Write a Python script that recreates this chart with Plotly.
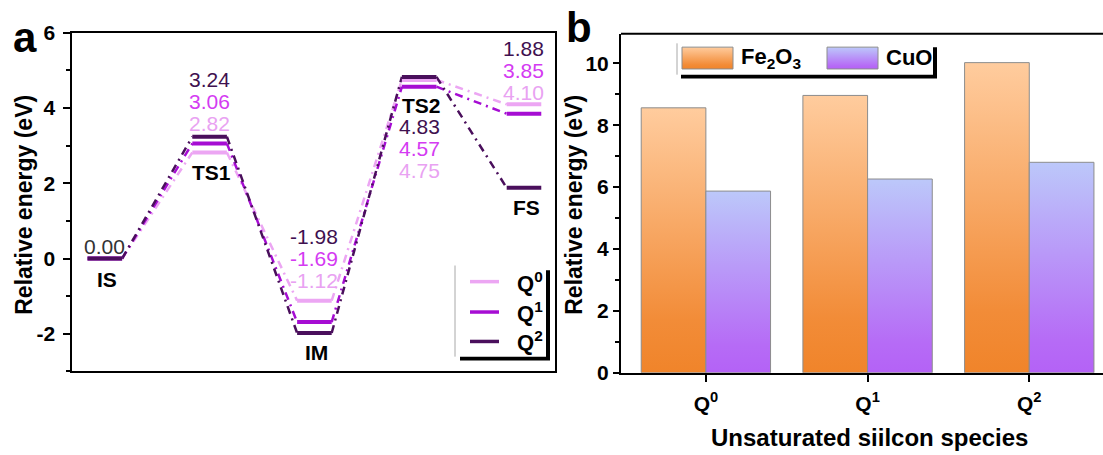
import plotly.graph_objects as go

# ---------------- data ----------------
states = ["IS", "TS1", "IM", "TS2", "FS"]
series_labels = ["Q<sup>0</sup>", "Q<sup>1</sup>", "Q<sup>2</sup>"]
energy_q0 = [0.00, 2.82, -1.12, 4.75, 4.10]
energy_q1 = [0.00, 3.06, -1.69, 4.57, 3.85]
energy_q2 = [0.00, 3.24, -1.98, 4.83, 1.88]

species = ["Q<sup>0</sup>", "Q<sup>1</sup>", "Q<sup>2</sup>"]
fe2o3_energy = [8.56, 8.96, 10.02]
cuo_energy = [5.87, 6.26, 6.80]

energy_ticks_a = [-2, 0, 2, 4, 6]
energy_ticks_b = [0, 2, 4, 6, 8, 10]

# ---------------- styles ----------------
FONT = "Arial, 'Liberation Sans', sans-serif"
line_cols = ["#ECA6F3", "#A60DD3", "#4A0F5C"]
text_cols = ["#E9A2F2", "#D43BF2", "#3F1150"]
fe_scale = [[0, "#F0842A"], [0.2, "#F28C38"], [1, "#FFCC9E"]]
cu_scale = [[0, "#B462F6"], [0.15, "#B66BF6"], [1, "#BCC8FA"]]
HALF = 0.165          # half width of an energy level
DASH = "8px,5px,2px,5px"
BAR_W = 0.4

fig = go.Figure()

# ---------------- panel a: energy profile ----------------
series = [energy_q0, energy_q1, energy_q2]
xs = list(range(1, len(states) + 1))
for vals, lc in zip(series, line_cols):
    cx, cy = [], []
    for i in range(len(vals) - 1):
        cx += [xs[i] + HALF, xs[i + 1] - HALF, None]
        cy += [vals[i], vals[i + 1], None]
    fig.add_trace(go.Scatter(x=cx, y=cy, mode="lines", xaxis="x", yaxis="y",
                             line=dict(color=lc, width=2.5, dash=DASH),
                             showlegend=False, hoverinfo="skip"))
for vals, lc in zip(series, line_cols):
    lx, ly = [], []
    for x, v in zip(xs, vals):
        lx += [x - HALF, x + HALF, None]
        ly += [v, v, None]
    fig.add_trace(go.Scatter(x=lx, y=ly, mode="lines", xaxis="x", yaxis="y",
                             line=dict(color=lc, width=4),
                             showlegend=False, hoverinfo="skip"))

annotations = []
# value labels, stacked Q2 / Q1 / Q0 from top
label_top = {"TS1": 4.76, "IM": 0.58, "TS2": 3.50, "FS": 5.58}
STEP = 0.58
for s, top in label_top.items():
    k = states.index(s)
    for row, idx in enumerate([2, 1, 0]):
        annotations.append(dict(
            x=xs[k], y=top - row * STEP, xref="x", yref="y",
            text=f"{series[idx][k]:.2f}", showarrow=False,
            font=dict(family=FONT, size=21, color=text_cols[idx])))
annotations.append(dict(x=xs[0], y=0.31, xref="x", yref="y",
                        text=f"{energy_q2[0]:.2f}", showarrow=False,
                        font=dict(family=FONT, size=21, color="#333333")))
# state names
name_y = {"IS": -0.56, "TS1": 2.30, "IM": -2.50, "TS2": 4.08, "FS": 1.36}
for s, y in name_y.items():
    annotations.append(dict(x=xs[states.index(s)] + 0.02, y=y, xref="x", yref="y",
                            text=f"<b>{s}</b>", showarrow=False,
                            font=dict(family=FONT, size=21, color="black")))

# ---------------- panel b: bars with vertical gradient ----------------
for vals, scale in [(fe2o3_energy, fe_scale), (cuo_energy, cu_scale)]:
    offset = -BAR_W if scale is fe_scale else 0.0
    for c, v in enumerate(vals):
        x0 = c + offset
        fig.add_trace(go.Scatter(
            x=[x0, x0, x0 + BAR_W, x0 + BAR_W, x0], y=[0, v, v, 0, 0],
            mode="lines", fill="toself", xaxis="x2", yaxis="y2",
            fillgradient=dict(type="vertical", colorscale=scale),
            line=dict(color="#8C8C8C", width=1),
            showlegend=False, hoverinfo="skip"))

# ---------------- legends on a pixel canvas (x3/y3) ----------------
def rect(x0, y0, x1, y1, fill, line_color=None, line_width=0):
    fig.add_trace(go.Scatter(
        x=[x0, x1, x1, x0, x0], y=[y0, y0, y1, y1, y0], mode="lines",
        fill="toself", fillcolor=fill, xaxis="x3", yaxis="y3",
        line=dict(color=line_color or fill, width=line_width),
        showlegend=False, hoverinfo="skip"))

def edge(x0, y0, x1, y1, color, width):
    fig.add_trace(go.Scatter(x=[x0, x1], y=[y0, y1], mode="lines",
                             xaxis="x3", yaxis="y3",
                             line=dict(color=color, width=width),
                             showlegend=False, hoverinfo="skip"))

# legend of panel a
rect(460, 272, 550, 367, "black")
rect(455, 267, 546, 363, "white")
edge(455, 267, 455, 363, "#A8A8A8", 1)
for j, (yy, lc) in enumerate(zip([284, 316, 347], line_cols)):
    edge(470, yy, 499, yy, lc, 3.5)
    annotations.append(dict(x=515, y=yy, xref="x3", yref="y3", xanchor="left",
                            text=f"<b>{series_labels[j]}</b>", showarrow=False,
                            font=dict(family=FONT, size=22, color="black")))

# legend of panel b
rect(681, 37, 937, 70, "black")
rect(677, 33, 933, 66, "white")
edge(677, 33, 677, 66, "#A8A8A8", 1)
for (x0, scale, name) in [(682, fe_scale, "Fe<sub>2</sub>O<sub>3</sub>"),
                          (827, cu_scale, "CuO")]:
    fig.add_trace(go.Scatter(
        x=[x0, x0, x0 + 51, x0 + 51, x0], y=[60, 37, 37, 60, 60],
        mode="lines", fill="toself", xaxis="x3", yaxis="y3",
        fillgradient=dict(type="vertical", colorscale=scale),
        line=dict(color="#8C8C8C", width=1),
        showlegend=False, hoverinfo="skip"))
    annotations.append(dict(x=x0 + 57, y=48, xref="x3", yref="y3", xanchor="left",
                            text=f"<b>{name}</b>", showarrow=False,
                            font=dict(family=FONT, size=22, color="black")))

# axis titles and panel letters
title_font = dict(family=FONT, size=23, color="black")
annotations += [
    dict(x=24, y=203, xref="x3", yref="y3", text="<b>Relative energy (eV)</b>",
         textangle=-90, showarrow=False, font=title_font),
    dict(x=574, y=203, xref="x3", yref="y3", text="<b>Relative energy (eV)</b>",
         textangle=-90, showarrow=False, font=title_font),
    dict(x=869, y=448, xref="x3", yref="y3", text="<b>Unsaturated siilcon species</b>",
         showarrow=False, font=dict(family=FONT, size=24, color="black")),
    dict(x=25, y=27, xref="x3", yref="y3", text="<b>a</b>", showarrow=False,
         font=dict(family=FONT, size=42, color="black")),
    dict(x=579, y=16, xref="x3", yref="y3", text="<b>b</b>", showarrow=False,
         font=dict(family=FONT, size=42, color="black")),
]

tick_font = dict(family=FONT, size=21, color="black", weight="bold")
fig.update_layout(
    width=1103, height=455, margin=dict(l=0, r=0, t=0, b=0),
    paper_bgcolor="white", plot_bgcolor="rgba(0,0,0,0)",
    showlegend=False, annotations=annotations,
    xaxis=dict(domain=[71.5 / 1103, 555 / 1103], range=[0.682, 5.296],
               showline=True, mirror=True, linecolor="black", linewidth=2,
               ticks="", showticklabels=False, showgrid=False, zeroline=False),
    yaxis=dict(domain=[(455 - 378.5) / 455, (455 - 22) / 455], range=[-3, 6],
               showline=True, mirror=True, linecolor="black", linewidth=2,
               ticks="outside", ticklen=7, tickwidth=2, tickcolor="black",
               tickvals=energy_ticks_a,
               ticktext=[str(t) for t in energy_ticks_a],
               tickfont=tick_font, ticklabelstandoff=3,
               minor=dict(ticks="outside", ticklen=4, tickwidth=1.5, dtick=1,
                          tick0=1, tickcolor="black"),
               showgrid=False, zeroline=False),
    xaxis2=dict(domain=[621 / 1103, 1.0], range=[-0.525, 2.456],
                tickvals=[0, 1, 2], ticktext=[f"<b>{s}</b>" for s in species],
                showline=True, linecolor="black", linewidth=2,
                ticks="outside", ticklen=7, tickwidth=2, tickcolor="black",
                tickfont=tick_font, ticklabelstandoff=4,
                showgrid=False, zeroline=False),
    yaxis2=dict(domain=[(455 - 380) / 455, (455 - 23) / 455], range=[0, 10.95],
                anchor="x2", showline=True, linecolor="black", linewidth=2,
                ticks="outside", ticklen=6, tickwidth=2, tickcolor="black",
                tickvals=energy_ticks_b,
                ticktext=[str(t) for t in energy_ticks_b],
                tickfont=tick_font, ticklabelstandoff=0,
                minor=dict(ticks="outside", ticklen=4, tickwidth=1.5, dtick=1,
                           tick0=1, tickcolor="black"),
                showgrid=False, zeroline=False),
    xaxis3=dict(domain=[0, 1], range=[0, 1103], visible=False, fixedrange=True,
                anchor="y3"),
    yaxis3=dict(domain=[0, 1], range=[455, 0], visible=False, fixedrange=True,
                anchor="x3"),
    shapes=[dict(type="line", xref="x2 domain", yref="y2 domain",
                 x0=0, x1=1, y0=1, y1=1, line=dict(color="black", width=2))],
)
fig.layout.xaxis2.anchor = "y2"

fig.write_html("out.html")
